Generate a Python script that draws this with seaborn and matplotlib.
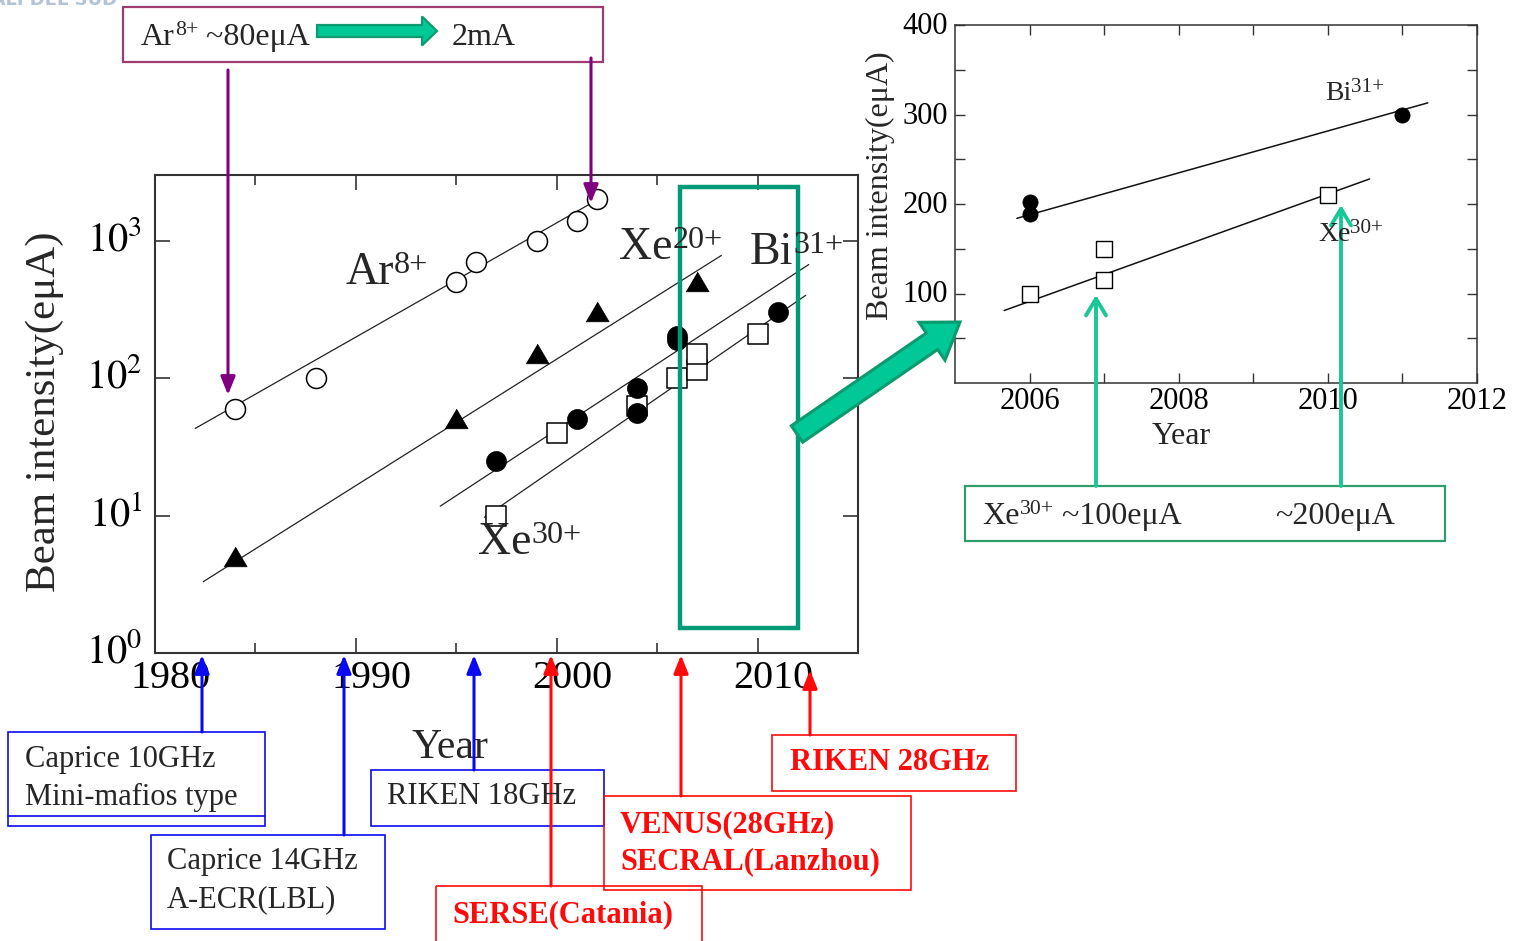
import matplotlib
matplotlib.use("Agg")
import matplotlib.pyplot as plt
import seaborn as sns
import pandas as pd
from matplotlib.patches import Rectangle, FancyArrow, FancyArrowPatch
from matplotlib.lines import Line2D
from matplotlib.transforms import Affine2D, ScaledTranslation
from matplotlib.ticker import FixedLocator, NullLocator

# ---------------- data ----------------
ar_year = [1984, 1988, 1995, 1996, 1999, 2001, 2002]
ar_val = [60, 100, 500, 700, 1000, 1400, 2000]

xe20_year = [1984, 1995, 1999, 2002, 2007]
xe20_val = [5, 50, 150, 300, 500]

bi_year = [1997, 2001, 2004, 2004, 2006, 2006, 2011]
bi_val = [25, 50, 85, 56, 202, 189, 300]

xe30_year = [1997, 2000, 2004, 2006, 2007, 2007, 2010]
xe30_val = [10, 40, 63, 100, 115, 150, 210]

# trend lines (year range, intensity at each end)
ar_fit_year, ar_fit_val = [1982.0, 2002.2], [43, 2050]
xe20_fit_year, xe20_fit_val = [1982.4, 2008.2], [3.3, 780]
bi_fit_year, bi_fit_val = [1994.2, 2012.55], [11.7, 670]
xe30_fit_year, xe30_fit_val = [1996.4, 2012.4], [9.7, 400]

# zoomed linear view
bi_lin_fit_year, bi_lin_fit_val = [2005.83, 2011.34], [184, 313]
xe30_lin_fit_year, xe30_lin_fit_val = [2005.66, 2010.56], [81, 228]

main_xticks = [1980, 1990, 2000, 2010]
main_xticks_minor = [1985, 1995, 2005]
main_yticks = [1, 10, 100, 1000]
main_yticklabels = ["$10^{0}$", "$10^{1}$", "$10^{2}$", "$10^{3}$"]
inset_xticks = [2006, 2008, 2010, 2012]
inset_xticks_minor = [2007, 2009, 2011]
inset_yticks = [100, 200, 300, 400]
inset_yticks_minor = [50, 150, 250, 350]

# ---------------- style ----------------
sns.set_theme(style="ticks")
plt.rcParams["font.family"] = ["Liberation Serif", "DejaVu Serif"]
plt.rcParams["mathtext.fontset"] = "stix"
plt.rcParams["axes.edgecolor"] = "#333333"

W, H = 1517, 941
fig = plt.figure(figsize=(W / 100, H / 100), dpi=100)
fig.patch.set_facecolor("white")
renderer = fig.canvas.get_renderer()

# pixel transform, origin at the top-left corner
PX = Affine2D().scale(1, -1).translate(0, H)


def fx(x):
    return x / W


def fy(y):
    return 1 - y / H


def box(x0, y0, x1, y1, color, lw=1.2):
    fig.add_artist(Rectangle((x0, y0), x1 - x0, y1 - y0, transform=PX,
                             fill=False, edgecolor=color, lw=lw))


def arrow(x, y0, y1, color, lw=2.2, style="-|>,head_length=0.55,head_width=0.22", ms=20):
    fig.add_artist(FancyArrowPatch((x, y0), (x, y1), transform=PX,
                                   arrowstyle=style, mutation_scale=ms,
                                   color=color, lw=lw, shrinkA=0, shrinkB=0))


def runs(x, baseline, parts, **kw):
    """Write text pieces one after another; each piece is (text, size, rise_px)."""
    for txt, size, rise in parts:
        t = fig.text(fx(x), fy(baseline - rise), txt, fontsize=size,
                     ha="left", va="baseline", **kw)
        x = t.get_window_extent(renderer).x1


def ion(x, baseline, elem, charge, size, sup=0.7, rise=0.25, tail=None, **kw):
    parts = [(elem, size, 0), (charge, size * sup, size * rise * 100 / 72)]
    if tail:
        parts.append((tail, size, 0))
    runs(x, baseline, parts, **kw)


# ---------------- main log plot ----------------
ax = fig.add_axes([fx(155), fy(653), (858 - 155) / W, (653 - 175) / H])
ax.set_yscale("log")

for fy_, fv_ in [(ar_fit_year, ar_fit_val), (xe20_fit_year, xe20_fit_val),
                 (bi_fit_year, bi_fit_val), (xe30_fit_year, xe30_fit_val)]:
    sns.lineplot(x=fy_, y=fv_, ax=ax, color="#222222", lw=0.9)

tri = [(-1, -0.8), (1, -0.8), (0, 0.9)]
sns.scatterplot(x=ar_year, y=ar_val, ax=ax, marker="o", s=207,
                facecolor="white", edgecolor="black", linewidth=1.1, zorder=3)
sns.scatterplot(x=xe20_year, y=xe20_val, ax=ax, marker=tri, s=280,
                color="black", edgecolor="black", linewidth=0.5, zorder=3)
sns.scatterplot(x=xe30_year, y=xe30_val, ax=ax, marker="s", s=200,
                facecolor="white", edgecolor="black", linewidth=1.1, zorder=3)
sns.scatterplot(x=bi_year, y=bi_val, ax=ax, marker="o", s=207,
                color="black", edgecolor="black", linewidth=0.5, zorder=4)

ax.set_xlim(1980, 2015)
ax.set_ylim(1, 3000)
ax.xaxis.set_major_locator(FixedLocator(main_xticks))
ax.xaxis.set_minor_locator(FixedLocator(main_xticks_minor))
ax.yaxis.set_major_locator(FixedLocator(main_yticks))
ax.yaxis.set_minor_locator(NullLocator())
ax.set_xticklabels([str(t) for t in main_xticks])
ax.set_yticklabels(main_yticklabels)
ax.tick_params(which="both", direction="in", top=True, right=True,
               color="#333333", width=1.2, labelsize=29, labelcolor="black")
ax.tick_params(which="major", length=11)
ax.tick_params(which="minor", length=7)
ax.tick_params(axis="x", pad=5)
ax.tick_params(axis="y", pad=9)
for lab in ax.get_xticklabels():
    lab.set_transform(lab.get_transform() + ScaledTranslation(0.16, 0, fig.dpi_scale_trans))
for lab in ax.get_yticklabels():
    lab.set_transform(lab.get_transform() + ScaledTranslation(0, 0.05, fig.dpi_scale_trans))
for sp in ax.spines.values():
    sp.set_linewidth(1.5)
ax.set_xlabel("Year", fontsize=30)
ax.xaxis.set_label_coords((450 - 155) / 703, -(748 - 653) / 478)
ax.xaxis.label.set_va("center")
ax.set_ylabel("Beam intensity(eμA)", fontsize=31)
ax.yaxis.set_label_coords((45 - 155) / 703, (653 - 412) / 478)
ax.yaxis.label.set_va("center")

ion(345, 284, "Ar", "8+", 33)
ion(619, 259, "Xe", "20+", 33)
ion(750, 264, "Bi", "31+", 33)
ion(478, 554, "Xe", "30+", 33)

# ---------------- zoomed linear plot ----------------
ax2 = fig.add_axes([fx(955), fy(383), (1477 - 955) / W, (383 - 25) / H])
bi_new = pd.DataFrame({"year": bi_year, "val": bi_val}).query("year >= 2006")
xe_new = pd.DataFrame({"year": xe30_year, "val": xe30_val}).query("year >= 2006")
sns.lineplot(x=bi_lin_fit_year, y=bi_lin_fit_val, ax=ax2, color="#111111", lw=1.1)
sns.lineplot(x=xe30_lin_fit_year, y=xe30_lin_fit_val, ax=ax2, color="#111111", lw=1.1)
sns.scatterplot(data=bi_new, x="year", y="val", ax=ax2, marker="o", s=120,
                color="black", edgecolor="black", linewidth=0.5, zorder=3)
sns.scatterplot(data=xe_new, x="year", y="val", ax=ax2, marker="s", s=120,
                facecolor="white", edgecolor="black", linewidth=1.0, zorder=3)
ax2.set_xlim(2005, 2012)
ax2.set_ylim(0, 400)
ax2.xaxis.set_major_locator(FixedLocator(inset_xticks))
ax2.xaxis.set_minor_locator(FixedLocator(inset_xticks_minor))
ax2.yaxis.set_major_locator(FixedLocator(inset_yticks))
ax2.yaxis.set_minor_locator(FixedLocator(inset_yticks_minor))
ax2.set_xticklabels([str(t) for t in inset_xticks])
ax2.set_yticklabels([str(t) for t in inset_yticks])
ax2.tick_params(which="both", direction="in", top=True, right=True, length=7,
                color="#333333", width=1.0, labelsize=22, labelcolor="black")
ax2.tick_params(axis="x", pad=3)
ax2.tick_params(axis="y", pad=5)
for lab in ax2.get_yticklabels():
    lab.set_transform(lab.get_transform() + ScaledTranslation(0, 0.02, fig.dpi_scale_trans))
for sp in ax2.spines.values():
    sp.set_linewidth(1.1)
ax2.set_xlabel("Year", fontsize=23)
ax2.xaxis.set_label_coords((1181 - 955) / 522, -(437 - 383) / 358)
ax2.xaxis.label.set_va("center")
ax2.set_ylabel("Beam intensity(eμA)", fontsize=23)
ax2.yaxis.set_label_coords((880 - 955) / 522, (383 - 186) / 358)
ax2.yaxis.label.set_va("center")
ion(1325, 100, "Bi", "31+", 20, sup=0.76, rise=0.28)
ion(1318, 241, "Xe", "30+", 20, sup=0.76, rise=0.28)

# ---------------- annotations ----------------
fig.text(fx(117), fy(5), "NAZIONALI DEL SUD", ha="right", va="baseline",
         color="#B3C3DA", fontsize=13, fontweight="bold", family="DejaVu Sans")

GREEN_FILL, GREEN_EDGE = "#00C896", "#0C9A6E"

# Ar8+ headline
box(123, 7, 603, 62, "#9E3A72", lw=1.6)
ion(141, 45, "Ar", "8+", 23, sup=0.68, rise=0.3, tail=" ~80eμA")
runs(452, 45, [("2mA", 23, 0)])
fig.add_artist(FancyArrow(317, 31, 120, 0, width=12, head_width=29, head_length=15,
                          length_includes_head=True, transform=PX,
                          facecolor=GREEN_FILL, edgecolor=GREEN_EDGE, lw=1.6))
arrow(228, 70, 395, "#800080", lw=2.2)
arrow(591, 58, 203, "#800080", lw=2.2)

# highlighted period and pointer to zoomed view
fig.add_artist(Rectangle((680, 187), 118, 441, transform=PX, fill=False,
                         edgecolor="#009A78", lw=3.2))
fig.add_artist(FancyArrow(797, 434, 163, -112, width=20, head_width=46, head_length=34,
                          length_includes_head=True, transform=PX,
                          facecolor=GREEN_FILL, edgecolor=GREEN_EDGE, lw=2.2))

# Xe30+ statement under the zoomed view
box(965, 486, 1445, 541, "#2F9E6A", lw=1.6)
ion(982, 524, "Xe", "30+", 23, sup=0.68, rise=0.3, tail=" ~100eμA")
runs(1275, 524, [("~200eμA", 23, 0)])
arrow(1096, 486, 295, "#18C896", lw=2.8, style="->,head_length=0.6,head_width=0.36")
arrow(1341, 486, 205, "#18C896", lw=2.8, style="->,head_length=0.6,head_width=0.36")

# ion sources (blue)
BLUE = "#0A0AF0"
box(8, 732, 265, 826, BLUE)
fig.add_artist(Line2D([8, 265], [816, 816], transform=PX, color=BLUE, lw=1.2))
fig.text(fx(25), fy(760), "Caprice 10GHz", fontsize=22, va="center")
fig.text(fx(25), fy(797), "Mini-mafios type", fontsize=22, va="center")
box(151, 835, 385, 929, BLUE)
fig.text(fx(167), fy(862), "Caprice 14GHz", fontsize=22, va="center")
fig.text(fx(167), fy(900), "A-ECR(LBL)", fontsize=22, va="center")
box(371, 770, 604, 826, BLUE)
fig.text(fx(387), fy(797), "RIKEN 18GHz", fontsize=22, va="center")
arrow(202, 732, 655, BLUE)
arrow(344, 835, 655, BLUE)
arrow(474, 770, 655, BLUE)

# ion sources (red)
RED = "#FF0A0A"
box(436, 886, 702, 945, RED)
fig.text(fx(452), fy(915), "SERSE(Catania)", fontsize=22, va="center",
         color=RED, fontweight="bold")
box(604, 796, 911, 890, RED)
fig.text(fx(620), fy(825), "VENUS(28GHz)", fontsize=22, va="center",
         color=RED, fontweight="bold")
fig.text(fx(620), fy(862), "SECRAL(Lanzhou)", fontsize=22, va="center",
         color=RED, fontweight="bold")
box(772, 735, 1016, 791, RED)
fig.text(fx(790), fy(763), "RIKEN 28GHz", fontsize=22, va="center",
         color=RED, fontweight="bold")
arrow(551, 886, 655, RED)
arrow(681, 796, 655, RED)
arrow(810, 735, 670, RED)

fig.savefig("out.png", dpi=100)
